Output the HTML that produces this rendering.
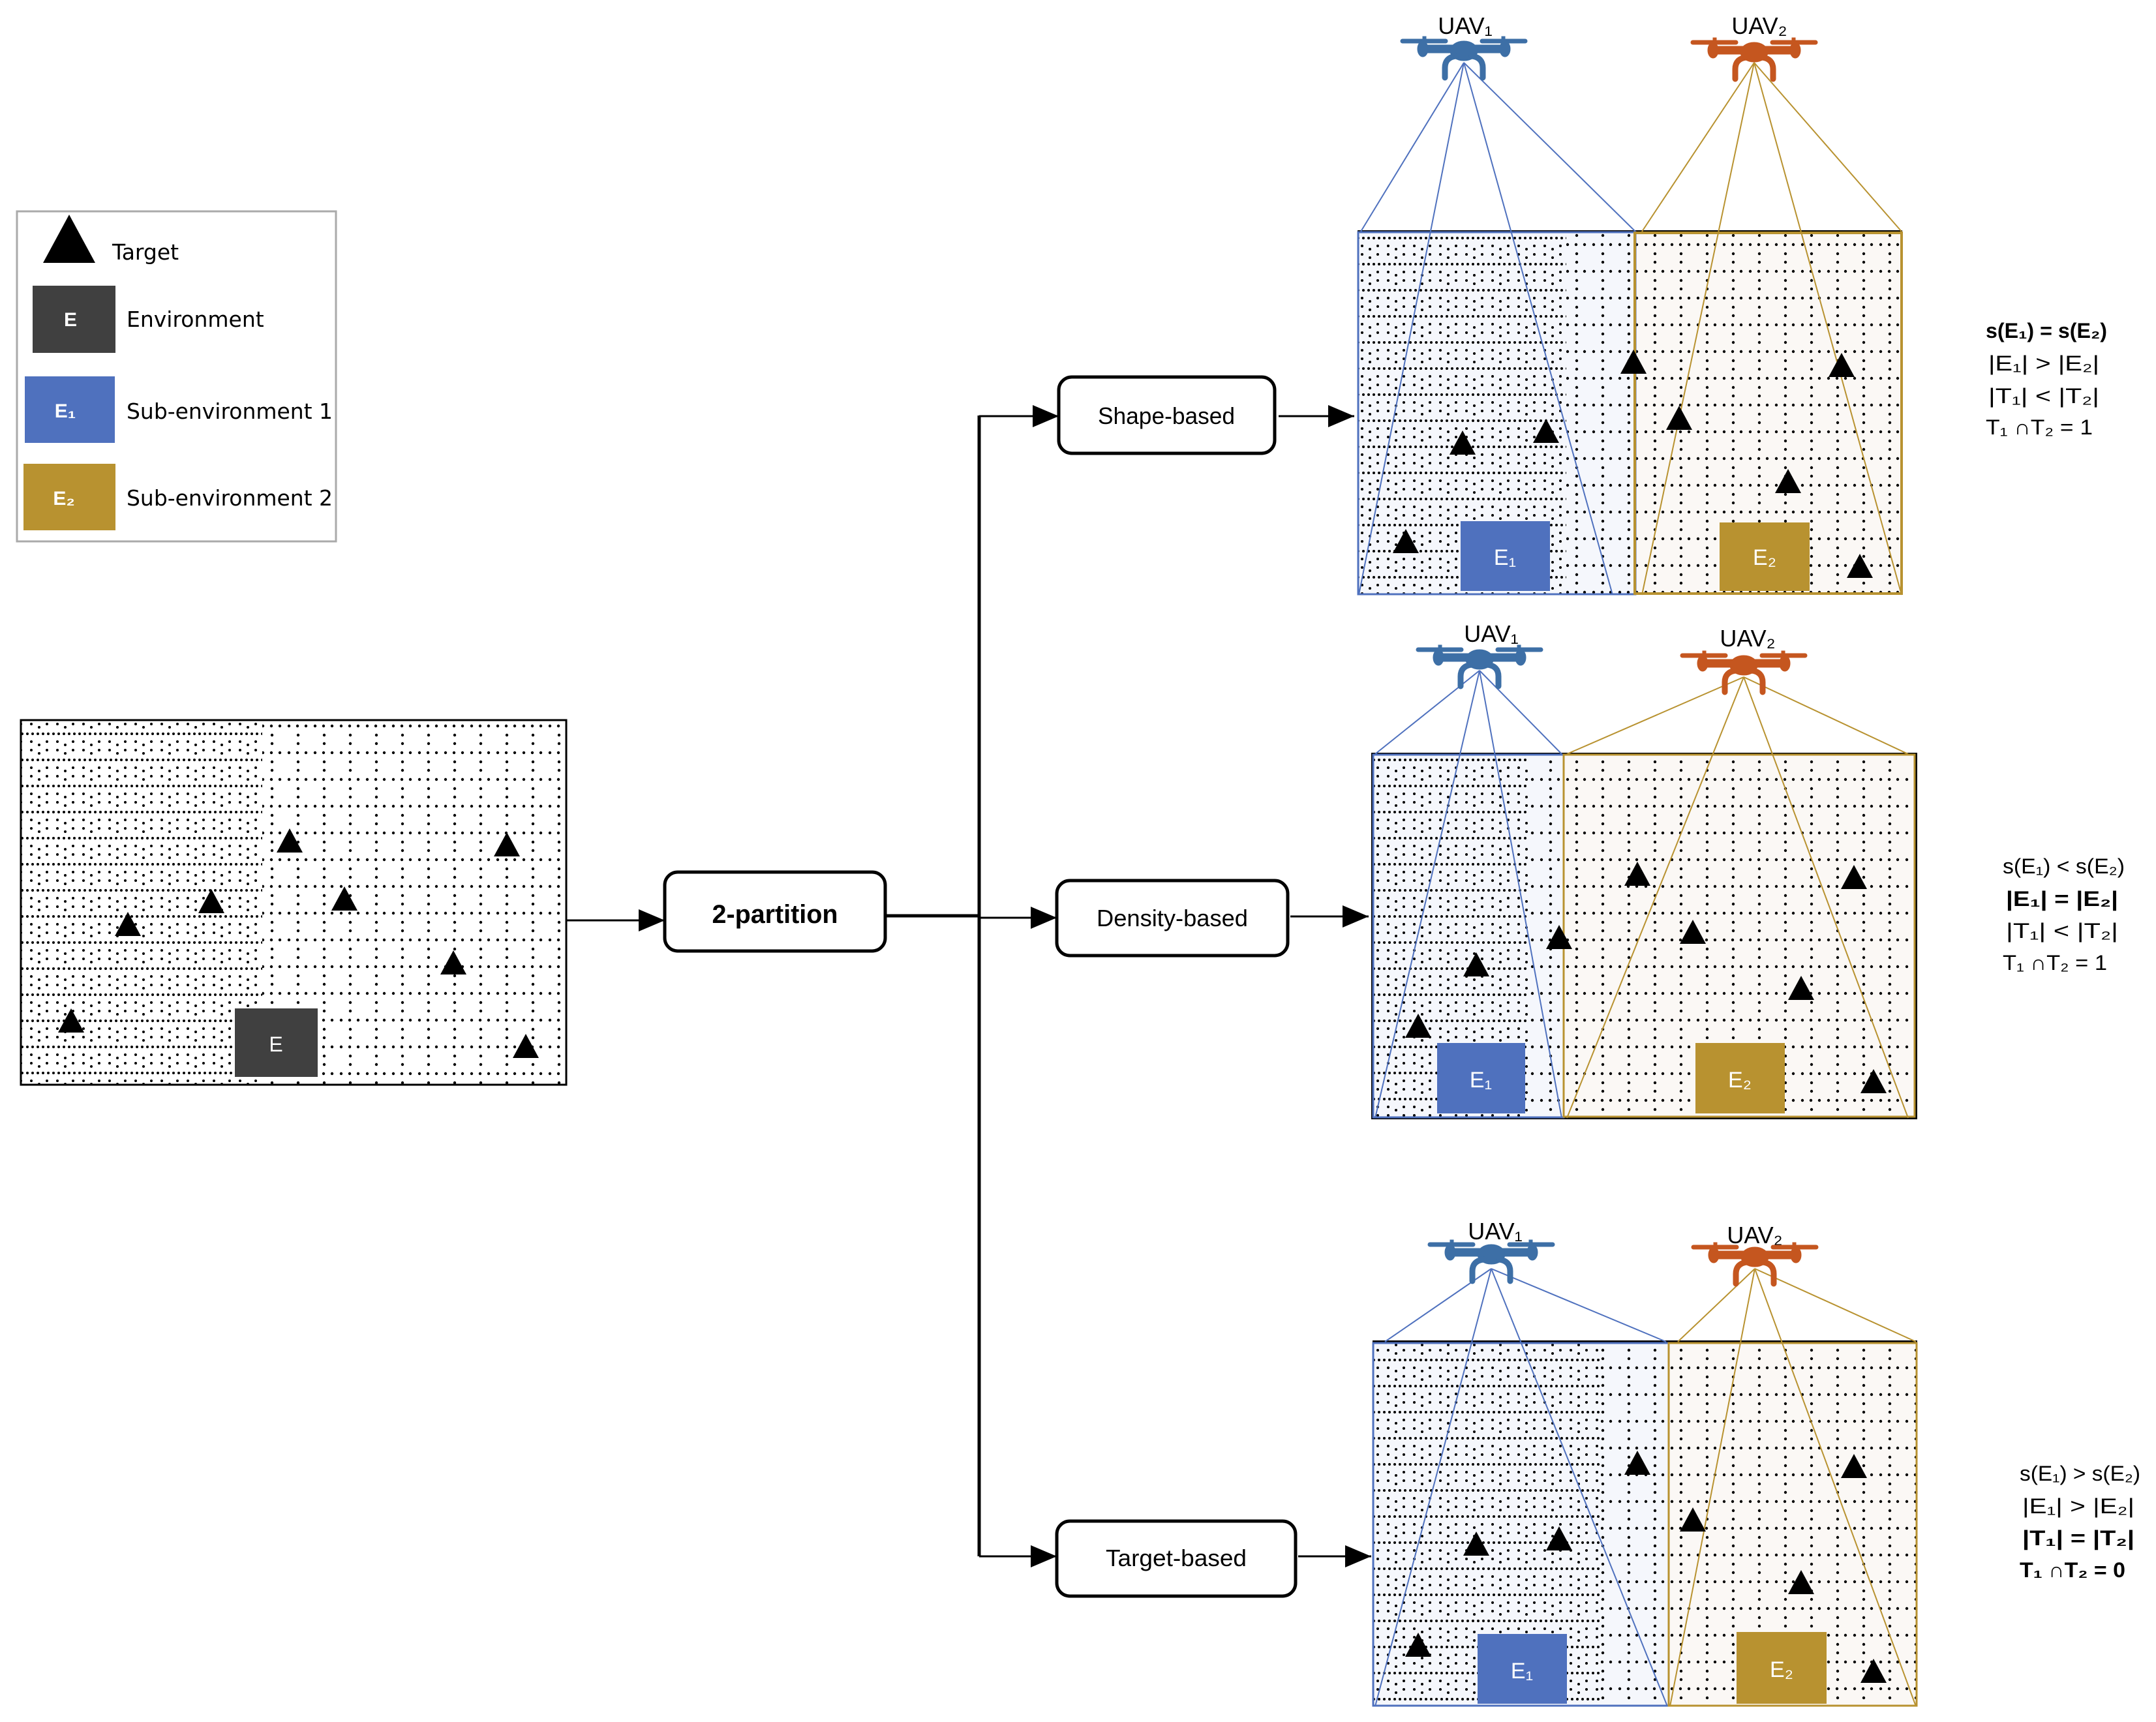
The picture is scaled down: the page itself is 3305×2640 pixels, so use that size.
<!DOCTYPE html>
<html><head><meta charset="utf-8"><style>
html,body{margin:0;padding:0;background:#fff;}
svg{display:block;}
</style></head><body>
<svg width="3305" height="2640" viewBox="0 0 3305 2640" xmlns="http://www.w3.org/2000/svg">
<defs>
<pattern id="sp" width="40" height="41" patternUnits="userSpaceOnUse">
<g fill="#000"><circle cx="3" cy="6" r="2.2"/><circle cx="16" cy="6" r="2.2"/><circle cx="29" cy="6" r="2.2"/><circle cx="17" cy="20" r="2.2"/><circle cx="17" cy="33" r="2.2"/></g>
</pattern>
<pattern id="dn" width="40" height="40" patternUnits="userSpaceOnUse">
<g fill="#000"><circle cx="2" cy="5" r="2"/><circle cx="10" cy="5" r="2"/><circle cx="18" cy="5" r="2"/><circle cx="26" cy="5" r="2"/><circle cx="34" cy="5" r="2"/>
<circle cx="8" cy="17" r="2"/><circle cx="20" cy="22" r="2"/><circle cx="32" cy="17" r="2"/><circle cx="8" cy="30" r="2"/><circle cx="20" cy="35" r="2"/><circle cx="32" cy="30" r="2"/></g>
</pattern>
<marker id="ah" viewBox="0 0 40 34" refX="40" refY="17" markerWidth="40" markerHeight="34" markerUnits="userSpaceOnUse" orient="auto">
<path d="M0,0 L40,17 L0,34 z" fill="#000"/></marker>
<g id="drone">
<rect x="-97" y="-18" width="72" height="6" rx="3"/><rect x="25" y="-18" width="72" height="6" rx="3"/>
<rect x="-63" y="-22" width="5" height="14"/><rect x="58" y="-22" width="5" height="14"/>
<rect x="-66" y="-9" width="132" height="12" rx="5"/>
<ellipse cx="-63" cy="-3" rx="8" ry="12"/><ellipse cx="63" cy="-3" rx="8" ry="12"/>
<ellipse cx="0" cy="0" rx="21" ry="15"/>
<path d="M-12,8 Q-29,10 -29,26 L-29,41" fill="none" stroke-width="9" stroke-linecap="round"/>
<path d="M12,8 Q29,10 29,26 L29,41" fill="none" stroke-width="9" stroke-linecap="round"/>
</g>
<path id="tri" d="M-20,0 L0,-37 L20,0 z"/>
</defs>

<!-- Legend -->
<rect x="26" y="324" width="489" height="506" fill="#fff" stroke="#aaa" stroke-width="3"/>
<path d="M66,403 L106,329 L146,403 z" fill="#000"/>
<text x="172" y="398" font-family="DejaVu Sans, sans-serif" font-size="33">Target</text>
<rect x="50" y="438" width="127" height="103" fill="#404040"/>
<text x="108" y="500" font-family="Liberation Sans, sans-serif" font-size="30" font-weight="bold" fill="#fff" text-anchor="middle">E</text>
<text x="194" y="501" font-family="DejaVu Sans, sans-serif" font-size="33">Environment</text>
<rect x="38" y="577" width="138" height="102" fill="#4f71be"/>
<text x="100" y="640" font-family="Liberation Sans, sans-serif" font-size="30" font-weight="bold" fill="#fff" text-anchor="middle">E₁</text>
<text x="194" y="642" font-family="DejaVu Sans, sans-serif" font-size="33" textLength="316" lengthAdjust="spacingAndGlyphs">Sub-environment 1</text>
<rect x="36" y="711" width="141" height="102" fill="#b89230"/>
<text x="98" y="774" font-family="Liberation Sans, sans-serif" font-size="30" font-weight="bold" fill="#fff" text-anchor="middle">E₂</text>
<text x="194" y="775" font-family="DejaVu Sans, sans-serif" font-size="33" textLength="316" lengthAdjust="spacingAndGlyphs">Sub-environment 2</text>

<!-- Environment -->
<rect x="32" y="1104" width="836" height="559" fill="#fff"/>
<rect x="32" y="1104" width="370" height="559" fill="url(#dn)"/>
<rect x="402" y="1104" width="466" height="559" fill="url(#sp)"/>
<rect x="32" y="1104" width="836" height="559" fill="none" stroke="#000" stroke-width="3"/>
<rect x="360" y="1546" width="127" height="105" fill="#404040"/>
<text x="423" y="1612" font-family="Liberation Sans, sans-serif" font-size="32" fill="#fff" text-anchor="middle">E</text>
<g fill="#000">
<use href="#tri" x="444" y="1307"/><use href="#tri" x="777" y="1313"/><use href="#tri" x="528" y="1396"/><use href="#tri" x="324" y="1400"/>
<use href="#tri" x="196" y="1435"/><use href="#tri" x="695" y="1494"/><use href="#tri" x="109" y="1583"/><use href="#tri" x="806" y="1622"/>
</g>

<!-- Flow -->
<g stroke="#000" fill="none">
<line x1="868" y1="1411" x2="1019" y2="1411" stroke-width="3" marker-end="url(#ah)"/>
<line x1="1357" y1="1404" x2="1501" y2="1404" stroke-width="5"/>
<line x1="1501" y1="637" x2="1501" y2="2386" stroke-width="5"/>
<line x1="1501" y1="638" x2="1623" y2="638" stroke-width="3" marker-end="url(#ah)"/>
<line x1="1501" y1="1407" x2="1620" y2="1407" stroke-width="3" marker-end="url(#ah)"/>
<line x1="1501" y1="2386" x2="1620" y2="2386" stroke-width="3" marker-end="url(#ah)"/>
<line x1="1960" y1="638" x2="2076" y2="638" stroke-width="3" marker-end="url(#ah)"/>
<line x1="1978" y1="1405" x2="2098" y2="1405" stroke-width="3" marker-end="url(#ah)"/>
<line x1="1990" y1="2386" x2="2102" y2="2386" stroke-width="3" marker-end="url(#ah)"/>
<rect x="1019" y="1337" width="338" height="121" rx="20" stroke-width="5" fill="#fff"/>
<rect x="1623" y="578" width="331" height="117" rx="20" stroke-width="5" fill="#fff"/>
<rect x="1620" y="1350" width="354" height="115" rx="20" stroke-width="5" fill="#fff"/>
<rect x="1620" y="2332" width="366" height="115" rx="20" stroke-width="5" fill="#fff"/>
</g>
<g font-family="Liberation Sans, sans-serif" font-size="36" text-anchor="middle">
<text x="1188" y="1415" font-weight="bold" font-size="40" textLength="193" lengthAdjust="spacingAndGlyphs">2-partition</text>
<text x="1788" y="650" textLength="210" lengthAdjust="spacingAndGlyphs">Shape-based</text>
<text x="1797" y="1420" textLength="232" lengthAdjust="spacingAndGlyphs">Density-based</text>
<text x="1803" y="2401" textLength="216" lengthAdjust="spacingAndGlyphs">Target-based</text>
</g>

<!-- Top panel -->
<rect x="2081" y="355" width="426" height="557" fill="#f5f7fc"/>
<rect x="2507" y="355" width="409" height="557" fill="#fbf8f5"/>
<rect x="2081" y="355" width="320" height="557" fill="url(#dn)"/>
<rect x="2401" y="355" width="515" height="557" fill="url(#sp)"/>
<line x1="2081" y1="355" x2="2916" y2="355" stroke="#000" stroke-width="4"/>
<rect x="2082" y="356" width="425" height="555" fill="none" stroke="#4f71be" stroke-width="3"/>
<rect x="2506" y="357" width="409" height="553" fill="none" stroke="#b89230" stroke-width="4"/>
<rect x="2239" y="799" width="137" height="107" fill="#4f71be"/>
<text x="2307" y="866" font-family="Liberation Sans, sans-serif" font-size="34" fill="#fff" text-anchor="middle">E₁</text>
<rect x="2636" y="801" width="138" height="105" fill="#b89230"/>
<text x="2705" y="866" font-family="Liberation Sans, sans-serif" font-size="34" fill="#fff" text-anchor="middle">E₂</text>
<g stroke="#4f71be" stroke-width="2"><line x1="2244" y1="96" x2="2086" y2="355"/><line x1="2244" y1="96" x2="2507" y2="355"/><line x1="2244" y1="96" x2="2083" y2="912"/><line x1="2244" y1="96" x2="2472" y2="912"/></g>
<g stroke="#b89230" stroke-width="2"><line x1="2689" y1="96" x2="2517" y2="355"/><line x1="2689" y1="96" x2="2915" y2="355"/><line x1="2689" y1="96" x2="2517" y2="912"/><line x1="2689" y1="96" x2="2915" y2="912"/></g>
<g fill="#000">
<use href="#tri" x="2504" y="573"/><use href="#tri" x="2242" y="697"/><use href="#tri" x="2370" y="679"/><use href="#tri" x="2155" y="848"/>
<use href="#tri" x="2574" y="659"/><use href="#tri" x="2823" y="578"/><use href="#tri" x="2741" y="756"/><use href="#tri" x="2851" y="886"/>
</g>
<use href="#drone" x="2244" y="78" fill="#3d6fa6" stroke="#3d6fa6"/>
<use href="#drone" x="2689" y="80" fill="#c5561f" stroke="#c5561f"/>
<g font-family="Liberation Sans, sans-serif" font-size="36" text-anchor="middle">
<text x="2246" y="52">UAV₁</text><text x="2697" y="52">UAV₂</text>
<text x="2286" y="984">UAV₁</text><text x="2679" y="991">UAV₂</text>
<text x="2292" y="1900">UAV₁</text><text x="2690" y="1906">UAV₂</text>
</g>

<!-- Middle panel -->
<rect x="2104" y="1156" width="293" height="558" fill="#f5f7fc"/>
<rect x="2397" y="1156" width="540" height="558" fill="#fbf8f5"/>
<rect x="2104" y="1156" width="240" height="558" fill="url(#dn)"/>
<rect x="2344" y="1156" width="593" height="558" fill="url(#sp)"/>
<rect x="2104" y="1156" width="833" height="558" fill="none" stroke="#000" stroke-width="4"/>
<rect x="2105" y="1157" width="292" height="556" fill="none" stroke="#4f71be" stroke-width="3"/>
<rect x="2397" y="1157" width="538" height="555" fill="none" stroke="#b89230" stroke-width="3"/>
<rect x="2203" y="1599" width="135" height="108" fill="#4f71be"/>
<text x="2270" y="1667" font-family="Liberation Sans, sans-serif" font-size="34" fill="#fff" text-anchor="middle">E₁</text>
<rect x="2599" y="1599" width="137" height="108" fill="#b89230"/>
<text x="2667" y="1667" font-family="Liberation Sans, sans-serif" font-size="34" fill="#fff" text-anchor="middle">E₂</text>
<g stroke="#4f71be" stroke-width="2"><line x1="2268" y1="1028" x2="2108" y2="1156"/><line x1="2268" y1="1028" x2="2394" y2="1156"/><line x1="2268" y1="1028" x2="2108" y2="1714"/><line x1="2268" y1="1028" x2="2394" y2="1714"/></g>
<g stroke="#b89230" stroke-width="2"><line x1="2673" y1="1038" x2="2402" y2="1156"/><line x1="2673" y1="1038" x2="2925" y2="1156"/><line x1="2673" y1="1038" x2="2402" y2="1714"/><line x1="2673" y1="1038" x2="2925" y2="1714"/></g>
<g fill="#000">
<use href="#tri" x="2510" y="1358"/><use href="#tri" x="2842" y="1363"/><use href="#tri" x="2595" y="1447"/><use href="#tri" x="2390" y="1455"/>
<use href="#tri" x="2263" y="1497"/><use href="#tri" x="2761" y="1533"/><use href="#tri" x="2174" y="1591"/><use href="#tri" x="2872" y="1676"/>
</g>
<use href="#drone" x="2268" y="1011" fill="#3d6fa6" stroke="#3d6fa6"/>
<use href="#drone" x="2673" y="1020" fill="#c5561f" stroke="#c5561f"/>

<!-- Bottom panel -->
<rect x="2104" y="2057" width="454" height="559" fill="#f5f7fc"/>
<rect x="2558" y="2057" width="381" height="559" fill="#fbf8f5"/>
<rect x="2104" y="2057" width="350" height="559" fill="url(#dn)"/>
<rect x="2454" y="2057" width="485" height="559" fill="url(#sp)"/>
<line x1="2104" y1="2057" x2="2939" y2="2057" stroke="#000" stroke-width="4"/>
<rect x="2105" y="2059" width="453" height="556" fill="none" stroke="#4f71be" stroke-width="3"/>
<rect x="2558" y="2059" width="380" height="556" fill="none" stroke="#b89230" stroke-width="3"/>
<rect x="2265" y="2505" width="137" height="107" fill="#4f71be"/>
<text x="2333" y="2573" font-family="Liberation Sans, sans-serif" font-size="34" fill="#fff" text-anchor="middle">E₁</text>
<rect x="2662" y="2502" width="138" height="110" fill="#b89230"/>
<text x="2731" y="2571" font-family="Liberation Sans, sans-serif" font-size="34" fill="#fff" text-anchor="middle">E₂</text>
<g stroke="#4f71be" stroke-width="2"><line x1="2286" y1="1945" x2="2123" y2="2057"/><line x1="2286" y1="1945" x2="2554" y2="2057"/><line x1="2286" y1="1945" x2="2108" y2="2616"/><line x1="2286" y1="1945" x2="2556" y2="2616"/></g>
<g stroke="#b89230" stroke-width="2"><line x1="2690" y1="1945" x2="2572" y2="2057"/><line x1="2690" y1="1945" x2="2937" y2="2057"/><line x1="2690" y1="1945" x2="2560" y2="2616"/><line x1="2690" y1="1945" x2="2937" y2="2616"/></g>
<g fill="#000">
<use href="#tri" x="2510" y="2261"/><use href="#tri" x="2842" y="2266"/><use href="#tri" x="2595" y="2348"/><use href="#tri" x="2390" y="2377"/>
<use href="#tri" x="2263" y="2385"/><use href="#tri" x="2761" y="2444"/><use href="#tri" x="2174" y="2540"/><use href="#tri" x="2872" y="2580"/>
</g>
<use href="#drone" x="2286" y="1923" fill="#3d6fa6" stroke="#3d6fa6"/>
<use href="#drone" x="2690" y="1927" fill="#c5561f" stroke="#c5561f"/>

<!-- Right text -->
<g font-family="Liberation Sans Narrow, Liberation Sans, sans-serif" font-size="32">
<text x="3044" y="518" font-weight="bold" textLength="186" lengthAdjust="spacingAndGlyphs">s(E₁) = s(E₂)</text>
<text x="3048" y="568" textLength="170" lengthAdjust="spacingAndGlyphs">|E₁| &gt; |E₂|</text>
<text x="3048" y="618" textLength="170" lengthAdjust="spacingAndGlyphs">|T₁| &lt; |T₂|</text>
<text x="3044" y="666" textLength="164" lengthAdjust="spacingAndGlyphs">T₁ ∩T₂ = 1</text>

<text x="3070" y="1339" textLength="187" lengthAdjust="spacingAndGlyphs">s(E₁) &lt; s(E₂)</text>
<text x="3075" y="1389" font-weight="bold" textLength="172" lengthAdjust="spacingAndGlyphs">|E₁| = |E₂|</text>
<text x="3075" y="1438" textLength="172" lengthAdjust="spacingAndGlyphs">|T₁| &lt; |T₂|</text>
<text x="3070" y="1487" textLength="160" lengthAdjust="spacingAndGlyphs">T₁ ∩T₂ = 1</text>

<text x="3096" y="2270" textLength="185" lengthAdjust="spacingAndGlyphs">s(E₁) &gt; s(E₂)</text>
<text x="3100" y="2320" textLength="172" lengthAdjust="spacingAndGlyphs">|E₁| &gt; |E₂|</text>
<text x="3100" y="2369" font-weight="bold" textLength="172" lengthAdjust="spacingAndGlyphs">|T₁| = |T₂|</text>
<text x="3096" y="2418" font-weight="bold" textLength="162" lengthAdjust="spacingAndGlyphs">T₁ ∩T₂ = 0</text>
</g>
</svg>
</body></html>
